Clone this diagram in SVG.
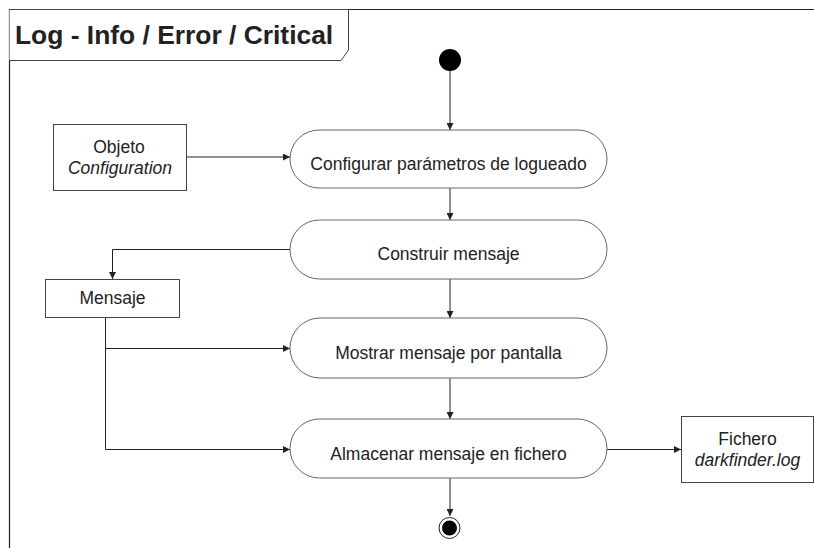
<svg xmlns="http://www.w3.org/2000/svg" width="814" height="548" viewBox="0 0 814 548">
  <style>
    text { font-family: "Liberation Sans", Arial, sans-serif; fill: #222; }
    .lbl { font-size: 17.5px; text-anchor: middle; }
    .it { font-style: italic; }
    .action { fill: #fff; stroke: #666; stroke-width: 1; }
    .obj { fill: #fff; stroke: #444; stroke-width: 1; }
    .edge { fill: none; stroke: #222; stroke-width: 1; }
    .frame { fill: none; stroke: #222; stroke-width: 1.2; }
  </style>
  <defs>
    <marker id="arr" viewBox="0 0 10 10" refX="10" refY="5" markerWidth="7" markerHeight="7" markerUnits="userSpaceOnUse" orient="auto">
      <path d="M0,0 L10,5 L0,10 Z" fill="#222"/>
    </marker>
  </defs>
  <rect width="814" height="548" fill="#fff"/>

  <!-- frame with title tab -->
  <g id="frame">
    <path class="frame" d="M9.5,560 L9.5,9.5 L830,9.5"/>
    <path fill="#fff" stroke="#444" stroke-width="1" d="M9.5,9.5 L348.5,9.5 L348.5,50 L341,60.5 L9.5,60.5"/>
    <text x="15" y="44" font-size="26.4" font-weight="bold" fill="#000">Log - Info / Error / Critical</text>
  </g>

  <!-- connectors -->
  <g id="connectors">
    <path class="edge" d="M450,71 L450,130" marker-end="url(#arr)"/>
    <path class="edge" d="M186,157 L290,157" marker-end="url(#arr)"/>
    <path class="edge" d="M450,188 L450,220" marker-end="url(#arr)"/>
    <path class="edge" d="M290,249.5 L112.5,249.5 L112.5,279" marker-end="url(#arr)"/>
    <path class="edge" d="M450,279 L450,318" marker-end="url(#arr)"/>
    <path class="edge" d="M105.5,317 L105.5,348.5 L290,348.5" marker-end="url(#arr)"/>
    <path class="edge" d="M105.5,348.5 L105.5,449.5 L290,449.5" marker-end="url(#arr)"/>
    <path class="edge" d="M450,378 L450,419" marker-end="url(#arr)"/>
    <path class="edge" d="M607,449.5 L681,449.5" marker-end="url(#arr)"/>
    <path class="edge" d="M450,478 L450,516" marker-end="url(#arr)"/>
  </g>

  <g id="start">
    <circle cx="450" cy="60" r="11" fill="#000"/>
  </g>

  <g id="configurar">
    <rect class="action" x="290" y="130" width="317" height="58" rx="29" ry="29"/>
    <text class="lbl" x="448.5" y="170">Configurar parámetros de logueado</text>
  </g>

  <g id="construir">
    <rect class="action" x="290" y="220" width="317" height="59" rx="29.5" ry="29.5"/>
    <text class="lbl" x="448.5" y="260">Construir mensaje</text>
  </g>

  <g id="mostrar">
    <rect class="action" x="290" y="318" width="317" height="60" rx="30" ry="30"/>
    <text class="lbl" x="448.5" y="359">Mostrar mensaje por pantalla</text>
  </g>

  <g id="almacenar">
    <rect class="action" x="290" y="419" width="317" height="59" rx="29.5" ry="29.5"/>
    <text class="lbl" x="448.5" y="460">Almacenar mensaje en fichero</text>
  </g>

  <g id="objeto-configuration">
    <rect class="obj" x="53.5" y="124.5" width="133" height="66"/>
    <text class="lbl" x="119" y="153">Objeto</text>
    <text class="lbl it" x="120" y="174">Configuration</text>
  </g>

  <g id="mensaje">
    <rect class="obj" x="45.5" y="279.5" width="134" height="38"/>
    <text class="lbl" x="112.5" y="304">Mensaje</text>
  </g>

  <g id="fichero">
    <rect class="obj" x="681.5" y="416.5" width="132" height="66"/>
    <text class="lbl" x="747.5" y="445">Fichero</text>
    <text class="lbl it" x="747.5" y="466">darkfinder.log</text>
  </g>

  <g id="end">
    <circle cx="449.5" cy="528" r="10.5" fill="#fff" stroke="#222" stroke-width="1"/>
    <circle cx="449.5" cy="528" r="7.5" fill="#000"/>
  </g>
</svg>
